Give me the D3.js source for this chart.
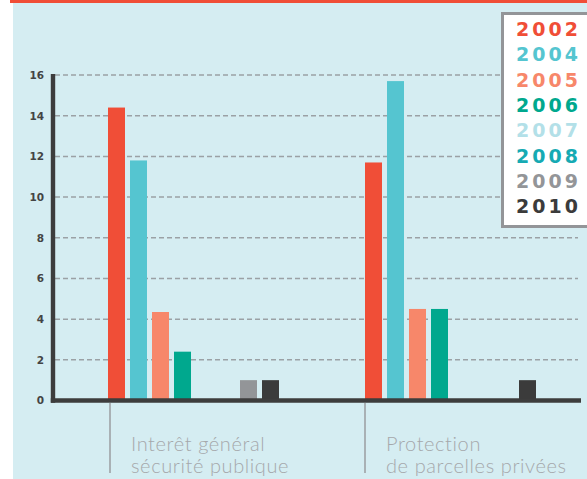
<!DOCTYPE html>
<html>
<head>
<meta charset="utf-8">
<script src="https://cdn.jsdelivr.net/npm/d3@7"></script>
<style>
  html, body { margin: 0; padding: 0; background: #ffffff; }
  svg { display: block; }
</style>
</head>
<body>
<svg id="chart" width="587" height="479"></svg>
<script>
// Categories (two lines each) and yearly series
const categories = ["Interêt général|sécurité publique", "Protection|de parcelles privées"];
const years = ["2002", "2004", "2005", "2006", "2007", "2008", "2009", "2010"];
const yearColors = ["#f04e37", "#55c5d0", "#f7876a", "#00a88e", "#b3e0e8", "#16aab3", "#939598", "#3b3b3b"];
const valuesInteret = [14.4, 11.8, 4.35, 2.4, 0, 0, 1, 1];
const valuesProtection = [11.7, 15.7, 4.5, 4.5, 0, 0, 0, 1];
const yTicks = [0, 2, 4, 6, 8, 10, 12, 14, 16];

const seriesByCategory = [valuesInteret, valuesProtection];

const svg = d3.select("#chart");
const W = 587, H = 479;

// Panel background and top accent stripe
svg.append("rect").attr("x", 13).attr("y", 3).attr("width", W - 13).attr("height", H - 3).attr("fill", "#d5edf2");
svg.append("rect").attr("x", 10).attr("y", 0).attr("width", W - 10).attr("height", 3).attr("fill", "#f04e37");

const y = d3.scaleLinear().domain([0, 16]).range([400.5, 75]);
const x0 = d3.scaleBand().domain(categories).range([108, 536]).paddingInner(86 / 257).paddingOuter(0);
const x1 = d3.scaleBand().domain(years).range([0, x0.bandwidth()]).paddingInner(5 / 22).paddingOuter(0);

// Dashed gridlines
svg.append("g").selectAll("line").data(yTicks.filter(t => t > 0)).join("line")
  .attr("x1", 55).attr("x2", 578)
  .attr("y1", d => y(d)).attr("y2", d => y(d))
  .attr("stroke", "#9ba1a5").attr("stroke-width", 1.5)
  .attr("stroke-dasharray", "5,3");

// Bars
const groups = svg.append("g").selectAll("g").data(categories).join("g")
  .attr("transform", d => `translate(${x0(d)},0)`);
groups.selectAll("rect")
  .data((c, i) => years.map((yr, j) => ({ yr, v: seriesByCategory[i][j], color: yearColors[j] })).filter(d => d.v > 0))
  .join("rect")
  .attr("x", d => x1(d.yr))
  .attr("width", x1.bandwidth())
  .attr("y", d => y(d.v))
  .attr("height", d => y(0) - y(d.v))
  .attr("fill", d => d.color);

// Y axis labels
const yAxis = d3.axisLeft(y).tickValues(yTicks).tickSize(0).tickPadding(9).tickFormat(d3.format("d"));
const gy = svg.append("g").attr("transform", "translate(53,0)").call(yAxis);
gy.select(".domain").remove();
gy.selectAll("text")
  .attr("font-family", "'DejaVu Sans', sans-serif")
  .attr("font-weight", 700)
  .attr("font-size", 10.5)
  .attr("fill", "#444444");

// Thick axis lines
svg.append("line").attr("x1", 53).attr("x2", 53).attr("y1", 74).attr("y2", 402.7)
  .attr("stroke", "#3d3d3d").attr("stroke-width", 4.4);
svg.append("line").attr("x1", 50.8).attr("x2", 581).attr("y1", 400.5).attr("y2", 400.5)
  .attr("stroke", "#3d3d3d").attr("stroke-width", 4.4);

// Category ticks and labels
const cat = svg.append("g").selectAll("g").data(categories).join("g")
  .attr("transform", (d, i) => `translate(${x0(d) + (i === 0 ? 2 : 0)},0)`);
cat.append("line").attr("x1", 0).attr("x2", 0).attr("y1", 403).attr("y2", 473)
  .attr("stroke", "#9a9da0").attr("stroke-width", 1.5);
cat.append("text")
  .attr("x", 21)
  .attr("font-family", "Lato, sans-serif")
  .attr("font-weight", 300)
  .attr("font-size", 20)
  .attr("letter-spacing", 0.6)
  .attr("fill", "#a5a8ab")
  .selectAll("tspan").data(d => d.split("|")).join("tspan")
  .attr("x", 21)
  .attr("y", (d, i) => 451 + i * 22)
  .text(d => d);

// Legend
const legend = svg.append("g");
legend.append("rect").attr("x", 502.5).attr("y", 13.5).attr("width", 100).attr("height", 213)
  .attr("fill", "#ffffff").attr("stroke", "#939598").attr("stroke-width", 3);
legend.selectAll("text").data(years).join("text")
  .attr("x", 516)
  .attr("y", (d, i) => 36 + i * 25.3)
  .attr("font-family", "'DejaVu Sans', sans-serif")
  .attr("font-weight", 700)
  .attr("font-size", 19)
  .attr("letter-spacing", 3)
  .attr("fill", (d, i) => yearColors[i])
  .text(d => d);
</script>
</body>
</html>
